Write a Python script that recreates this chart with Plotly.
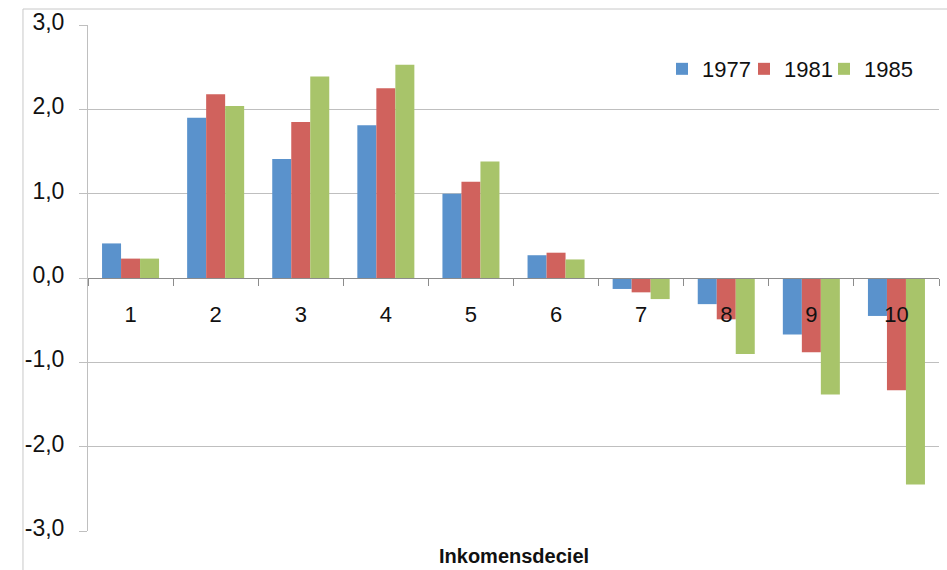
import plotly.graph_objects as go

# Income deciles and the change per survey year
deciles = ["1", "2", "3", "4", "5", "6", "7", "8", "9", "10"]
years = ["1977", "1981", "1985"]
values_1977 = [0.41, 1.90, 1.41, 1.81, 1.00, 0.27, -0.13, -0.31, -0.67, -0.45]
values_1981 = [0.23, 2.18, 1.85, 2.25, 1.14, 0.30, -0.17, -0.49, -0.88, -1.33]
values_1985 = [0.23, 2.04, 2.39, 2.53, 1.38, 0.22, -0.25, -0.90, -1.38, -2.45]
y_ticks = [-3, -2, -1, 0, 1, 2, 3]

series = [values_1977, values_1981, values_1985]
colors = ["#5A92CC", "#D0625D", "#A8C46A"]

# Dutch number style: comma decimal, plain hyphen minus
y_ticktext = [f"{v:.1f}".replace(".", ",") for v in y_ticks]

FONT = "Liberation Sans, Arial, sans-serif"
GRID = "#bfbfbf"
AXIS = "#8c8c8c"

# one single-entry legend per year, laid out side by side top right
legend_refs = ["legend", "legend2", "legend3"]
legend_left_px = [662, 744, 824]
plot_left, plot_width = 88, 851

fig = go.Figure()
for name, vals, col, lg in zip(years, series, colors, legend_refs):
    fig.add_trace(go.Bar(x=deciles, y=vals, name=name, marker_color=col,
                         marker_line_width=0, legend=lg))

legend_layout = {}
for lg, px in zip(legend_refs, legend_left_px):
    legend_layout[lg] = dict(orientation="h", x=(px - plot_left) / plot_width,
                             xanchor="left", y=0.913, yanchor="middle",
                             font=dict(size=22), bgcolor="rgba(0,0,0,0)",
                             itemwidth=30)

fig.update_layout(
    width=947, height=570,
    margin=dict(l=88, r=8, t=25, b=39),
    paper_bgcolor="white", plot_bgcolor="white",
    barmode="group", bargap=0.33, bargroupgap=0,
    font=dict(family=FONT, size=21, color="#111111"),
    showlegend=True,
    xaxis=dict(anchor="free", position=0.5, showline=True, linecolor=AXIS,
               linewidth=1, ticks="outside", tickson="boundaries", ticklen=7,
               tickcolor=AXIS, showgrid=False, ticklabelstandoff=17,
               tickfont=dict(size=22)),
    yaxis=dict(range=[-3, 3], tickvals=y_ticks, ticktext=y_ticktext,
               showgrid=True, gridcolor=GRID, gridwidth=1, zeroline=False,
               showline=True, linecolor=GRID, linewidth=1,
               ticks="outside", ticklen=8, tickcolor=GRID,
               ticklabelstandoff=10, ticklabelshift=-3,
               tickfont=dict(size=23)),
    annotations=[dict(text="<b>Inkomensdeciel</b>", xref="paper", yref="paper",
                      x=0.5, y=0, yshift=-25, xanchor="center", yanchor="middle",
                      showarrow=False, font=dict(size=20, color="#111111"))],
    shapes=[dict(type="rect", xref="paper", yref="paper",
                 x0=-0.0764, x1=1.2, y0=-0.3, y1=1.0316,
                 line=dict(color="#c8c8c8", width=1), layer="below")],
    **legend_layout,
)

fig.write_html("out.html")
